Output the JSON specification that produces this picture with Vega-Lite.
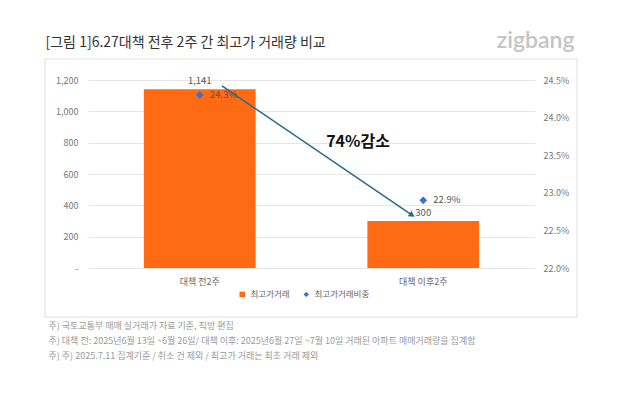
{
  "$schema": "https://vega.github.io/schema/vega-lite/v6.json",
  "width": 447,
  "height": 188,
  "autosize": {"type": "none"},
  "padding": {"left": 88, "top": 80, "right": 105, "bottom": 129},
  "background": "white",
  "config": {
    "font": "Noto Sans CJK KR",
    "view": {"stroke": null},
    "axis": {"domain": false, "ticks": false}
  },
  "datasets": {
    "bars": [
      {"cat": "대책 전2주", "count": 1141, "series": "최고가거래"},
      {"cat": "대책 이후2주", "count": 300, "series": "최고가거래"}
    ],
    "shares": [
      {"cat": "대책 전2주", "ratio": 0.243, "series": "최고가거래비중"},
      {"cat": "대책 이후2주", "ratio": 0.229, "series": "최고가거래비중"}
    ],
    "frame": [{"fx": -0.0962, "fx2": 1.094, "fy": 1334, "fy2": -313}],
    "arrow": [{"ax": 0.2998, "ay": 1162, "ax2": 0.725, "ay2": 338}],
    "note": [{"nx": 0.604, "ny": 804, "label": "74%감소"}]
  },
  "layer": [
    {
      "data": {"name": "frame"},
      "mark": {"type": "rect", "fill": null, "stroke": "#e4e4e4", "strokeWidth": 1.2},
      "encoding": {
        "x": {"field": "fx", "type": "quantitative", "scale": {"domain": [0, 1], "nice": false, "zero": false}, "axis": null},
        "x2": {"field": "fx2"},
        "y": {"field": "fy", "type": "quantitative", "scale": {"domain": [0, 1200], "nice": false}, "axis": null},
        "y2": {"field": "fy2"}
      }
    },
    {
      "data": {"name": "bars"},
      "mark": {"type": "bar"},
      "encoding": {
        "x": {
          "field": "cat", "type": "nominal", "sort": null,
          "scale": {"type": "band", "paddingInner": 0.5, "paddingOuter": 0.25},
          "axis": {
            "orient": "bottom", "labelAngle": 0, "labelFontSize": 9, "labelColor": "#666", "labelPadding": 9,
            "title": [
              "주) 국토교통부 매매 실거래가 자료 기준, 직방 편집",
              "주) 대책 전: 2025년6월 13일 ~6월 26일/ 대책 이후: 2025년6월 27일 ~7월 10일 거래된 아파트 매매거래량을 집계함",
              "주) 주) 2025.7.11 집계기준 / 취소 건 제외  / 최고가 거래는 최초 거래 제외"
            ],
            "titleFontSize": 9, "titleFontWeight": "normal", "titleColor": "#999",
            "titleAlign": "left", "titleAnchor": "start", "titleBaseline": "top",
            "titleX": -40, "titleY": 53, "titleLineHeight": 15
          }
        },
        "y": {
          "field": "count", "type": "quantitative",
          "scale": {"domain": [0, 1200], "nice": false},
          "axis": {
            "orient": "left", "values": [0, 200, 400, 600, 800, 1000, 1200],
            "labelExpr": "datum.value === 0 ? '-' : format(datum.value, ',')",
            "grid": true, "gridColor": "#e6e6e6", "labelFontSize": 9, "labelColor": "#777", "labelPadding": 10,
            "title": "[그림 1]6.27대책 전후 2주 간 최고가 거래량 비교",
            "titleAngle": 0, "titleAlign": "left", "titleBaseline": "middle",
            "titleX": -43, "titleY": -38, "titleFontSize": 14, "titleColor": "#333", "titleFontWeight": "normal"
          }
        },
        "color": {
          "field": "series", "type": "nominal",
          "scale": {"domain": ["최고가거래", "최고가거래비중"], "range": ["#ff6a13", "#3d6fcf"]},
          "legend": {
            "title": null, "orient": "none", "legendX": 150, "legendY": 210, "direction": "horizontal",
            "labelFontSize": 8.5, "labelColor": "#666", "symbolSize": 30, "columnPadding": 12,
            "encode": {"symbols": {"update": {"shape": {"signal": "datum.value === '최고가거래' ? 'square' : 'diamond'"}}}}
          }
        }
      }
    },
    {
      "data": {"name": "bars"},
      "mark": {"type": "text", "fontSize": 9.5, "color": "#555", "dy": -8},
      "encoding": {
        "x": {"field": "cat", "type": "nominal", "sort": null, "scale": {"type": "band", "paddingInner": 0.5, "paddingOuter": 0.25}, "axis": null},
        "y": {"field": "count", "type": "quantitative", "scale": {"domain": [0, 1200], "nice": false}, "axis": null},
        "text": {"field": "count", "type": "quantitative", "format": ","}
      }
    },
    {
      "data": {"name": "shares"},
      "mark": {"type": "point", "shape": "diamond", "filled": true, "size": 60, "opacity": 1},
      "encoding": {
        "x": {"field": "cat", "type": "nominal", "sort": null, "scale": {"type": "band", "paddingInner": 0.5, "paddingOuter": 0.25}, "axis": null},
        "y": {
          "field": "ratio", "type": "quantitative",
          "scale": {"domain": [0.22, 0.245], "nice": false, "zero": false},
          "axis": {
            "orient": "right", "values": [0.22, 0.225, 0.23, 0.235, 0.24, 0.245],
            "format": ".1%",
            "grid": false, "labelFontSize": 9, "labelColor": "#777", "labelPadding": 8,
            "title": "zigbang", "titleAngle": 0, "titleAlign": "right", "titleBaseline": "middle",
            "titleX": 39, "titleY": -40, "titleFontSize": 23, "titleColor": "#c4c4c4", "titleFontWeight": 600,
            "titleFont": "Lato"
          }
        },
        "color": {"field": "series", "type": "nominal"}
      }
    },
    {
      "data": {"name": "shares"},
      "mark": {"type": "text", "fontSize": 9.5, "color": "#555", "dx": 10, "align": "left"},
      "encoding": {
        "x": {"field": "cat", "type": "nominal", "sort": null, "scale": {"type": "band", "paddingInner": 0.5, "paddingOuter": 0.25}, "axis": null},
        "y": {"field": "ratio", "type": "quantitative", "scale": {"domain": [0.22, 0.245], "nice": false, "zero": false}, "axis": null},
        "text": {"field": "ratio", "type": "quantitative", "format": ".1%"}
      }
    },
    {
      "data": {"name": "arrow"},
      "mark": {"type": "rule", "color": "#246b8c", "strokeWidth": 1.5},
      "encoding": {
        "x": {"field": "ax", "type": "quantitative", "scale": {"domain": [0, 1], "nice": false, "zero": false}, "axis": null},
        "x2": {"field": "ax2"},
        "y": {"field": "ay", "type": "quantitative", "scale": {"domain": [0, 1200], "nice": false}, "axis": null},
        "y2": {"field": "ay2"}
      }
    },
    {
      "data": {"name": "arrow"},
      "mark": {"type": "point", "shape": "triangle-right", "angle": 34, "filled": true, "size": 45, "color": "#246b8c", "opacity": 1},
      "encoding": {
        "x": {"field": "ax2", "type": "quantitative", "scale": {"domain": [0, 1], "nice": false, "zero": false}, "axis": null},
        "y": {"field": "ay2", "type": "quantitative", "scale": {"domain": [0, 1200], "nice": false}, "axis": null}
      }
    },
    {
      "data": {"name": "note"},
      "mark": {"type": "text", "fontSize": 16, "fontWeight": "bold", "color": "#111"},
      "encoding": {
        "x": {"field": "nx", "type": "quantitative", "scale": {"domain": [0, 1], "nice": false, "zero": false}, "axis": null},
        "y": {"field": "ny", "type": "quantitative", "scale": {"domain": [0, 1200], "nice": false}, "axis": null},
        "text": {"field": "label"}
      }
    }
  ],
  "resolve": {"scale": {"x": "independent", "y": "independent"}}
}
